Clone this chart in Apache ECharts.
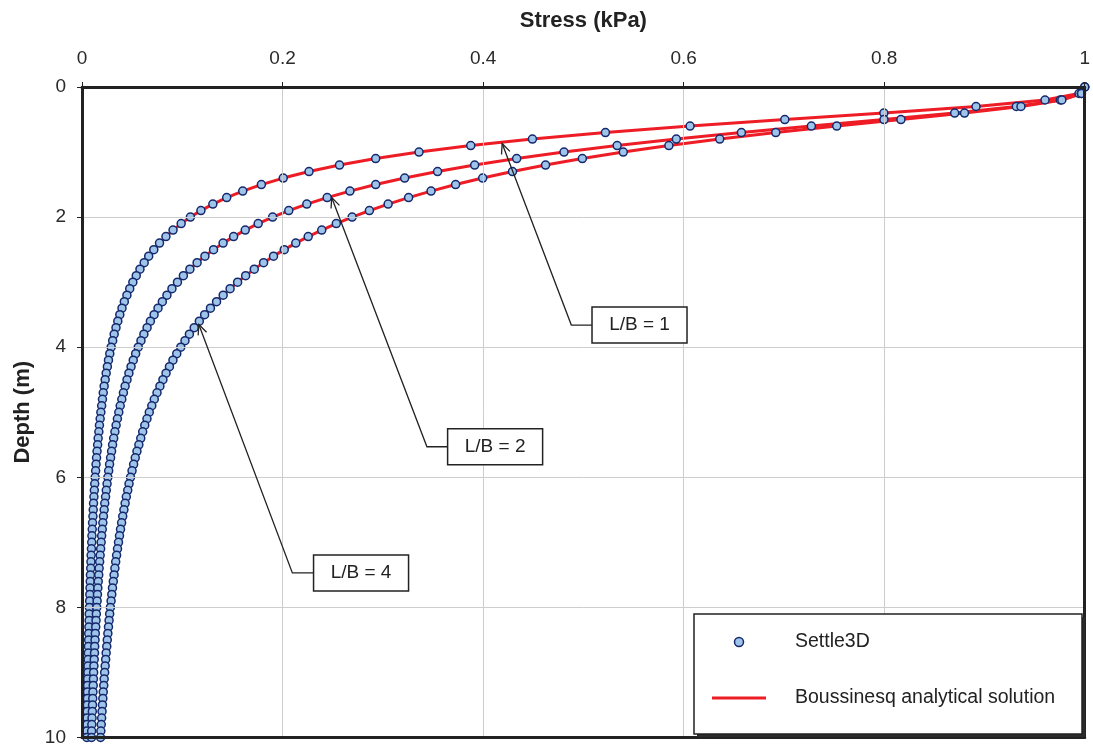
<!DOCTYPE html>
<html>
<head>
<meta charset="utf-8">
<title>Vertical stress below rectangular footings</title>
<script src="https://cdn.jsdelivr.net/npm/echarts@6/dist/echarts.min.js"></script>
<style>
  html, body { margin: 0; padding: 0; background: #ffffff; }
  #chart { width: 1093px; height: 747px; }
</style>
</head>
<body>
<div id="chart"></div>
<script>
// Depth below the footing (m)
const depths = [
  0.0, 0.1, 0.2, 0.3, 0.4, 0.5, 0.6, 0.7, 0.8, 0.9,
  1.0, 1.1, 1.2, 1.3, 1.4, 1.5, 1.6, 1.7, 1.8, 1.9,
  2.0, 2.1, 2.2, 2.3, 2.4, 2.5, 2.6, 2.7, 2.8, 2.9,
  3.0, 3.1, 3.2, 3.3, 3.4, 3.5, 3.6, 3.7, 3.8, 3.9,
  4.0, 4.1, 4.2, 4.3, 4.4, 4.5, 4.6, 4.7, 4.8, 4.9,
  5.0, 5.1, 5.2, 5.3, 5.4, 5.5, 5.6, 5.7, 5.8, 5.9,
  6.0, 6.1, 6.2, 6.3, 6.4, 6.5, 6.6, 6.7, 6.8, 6.9,
  7.0, 7.1, 7.2, 7.3, 7.4, 7.5, 7.6, 7.7, 7.8, 7.9,
  8.0, 8.1, 8.2, 8.3, 8.4, 8.5, 8.6, 8.7, 8.8, 8.9,
  9.0, 9.1, 9.2, 9.3, 9.4, 9.5, 9.6, 9.7, 9.8, 9.9,
  10.0
];

// Vertical stress (kPa) under the footing centre, L/B = 1
const stressLB1 = [
  1.0000, 0.9943, 0.9604, 0.8916, 0.7997, 0.7009, 0.6064, 0.5220, 0.4492, 0.3877,
  0.3361, 0.2929, 0.2568, 0.2264, 0.2007, 0.1789, 0.1603, 0.1443, 0.1305, 0.1186,
  0.1081, 0.0989, 0.0908, 0.0837, 0.0773, 0.0716, 0.0665, 0.0620, 0.0578, 0.0541,
  0.0507, 0.0476, 0.0448, 0.0422, 0.0399, 0.0377, 0.0357, 0.0339, 0.0321, 0.0306,
  0.0291, 0.0277, 0.0264, 0.0253, 0.0241, 0.0231, 0.0221, 0.0212, 0.0204, 0.0196,
  0.0188, 0.0181, 0.0174, 0.0168, 0.0161, 0.0156, 0.0150, 0.0145, 0.0140, 0.0136,
  0.0131, 0.0127, 0.0123, 0.0119, 0.0115, 0.0112, 0.0109, 0.0105, 0.0102, 0.0099,
  0.0097, 0.0094, 0.0091, 0.0089, 0.0087, 0.0084, 0.0082, 0.0080, 0.0078, 0.0076,
  0.0074, 0.0072, 0.0071, 0.0069, 0.0067, 0.0066, 0.0064, 0.0063, 0.0061, 0.0060,
  0.0059, 0.0057, 0.0056, 0.0055, 0.0054, 0.0053, 0.0052, 0.0051, 0.0050, 0.0049,
  0.0048
];

// Vertical stress (kPa) under the footing centre, L/B = 2
const stressLB2 = [
  1.0000, 0.9966, 0.9757, 0.9318, 0.8703, 0.7998, 0.7274, 0.6576, 0.5927, 0.5337,
  0.4807, 0.4335, 0.3916, 0.3546, 0.3218, 0.2929, 0.2672, 0.2445, 0.2242, 0.2062,
  0.1901, 0.1757, 0.1628, 0.1512, 0.1407, 0.1312, 0.1226, 0.1148, 0.1076, 0.1011,
  0.0952, 0.0897, 0.0847, 0.0801, 0.0758, 0.0719, 0.0682, 0.0649, 0.0617, 0.0588,
  0.0561, 0.0535, 0.0511, 0.0489, 0.0468, 0.0449, 0.0430, 0.0413, 0.0397, 0.0381,
  0.0367, 0.0353, 0.0340, 0.0328, 0.0316, 0.0305, 0.0295, 0.0285, 0.0275, 0.0266,
  0.0258, 0.0250, 0.0242, 0.0235, 0.0227, 0.0221, 0.0214, 0.0208, 0.0202, 0.0196,
  0.0191, 0.0186, 0.0181, 0.0176, 0.0171, 0.0167, 0.0162, 0.0158, 0.0154, 0.0151,
  0.0147, 0.0143, 0.0140, 0.0137, 0.0133, 0.0130, 0.0127, 0.0125, 0.0122, 0.0119,
  0.0116, 0.0114, 0.0112, 0.0109, 0.0107, 0.0105, 0.0103, 0.0100, 0.0098, 0.0096,
  0.0095
];

// Vertical stress (kPa) under the footing centre, L/B = 4
const stressLB4 = [
  1.0000, 0.9968, 0.9772, 0.9364, 0.8801, 0.8167, 0.7527, 0.6919, 0.6360, 0.5853,
  0.5398, 0.4990, 0.4623, 0.4293, 0.3996, 0.3726, 0.3481, 0.3257, 0.3053, 0.2866,
  0.2694, 0.2536, 0.2391, 0.2256, 0.2132, 0.2017, 0.1910, 0.1811, 0.1718, 0.1632,
  0.1552, 0.1477, 0.1408, 0.1342, 0.1281, 0.1223, 0.1170, 0.1119, 0.1071, 0.1027,
  0.0985, 0.0945, 0.0907, 0.0872, 0.0838, 0.0807, 0.0777, 0.0748, 0.0721, 0.0696,
  0.0671, 0.0648, 0.0626, 0.0605, 0.0586, 0.0567, 0.0548, 0.0531, 0.0515, 0.0499,
  0.0484, 0.0469, 0.0456, 0.0442, 0.0430, 0.0418, 0.0406, 0.0395, 0.0384, 0.0374,
  0.0364, 0.0354, 0.0345, 0.0336, 0.0328, 0.0320, 0.0312, 0.0304, 0.0297, 0.0290,
  0.0283, 0.0276, 0.0270, 0.0264, 0.0258, 0.0252, 0.0247, 0.0241, 0.0236, 0.0231,
  0.0226, 0.0221, 0.0217, 0.0212, 0.0208, 0.0204, 0.0200, 0.0196, 0.0192, 0.0188,
  0.0185
];

const curveLabels = ['L/B = 1', 'L/B = 2', 'L/B = 4'];

// Callouts in data units [stress, depth]: arrow tip, elbow, label box centre
const calloutTips    = [[0.419, 0.87], [0.249, 1.70], [0.1165, 3.65]];
const calloutElbows  = [[0.488, 3.66], [0.344, 5.53], [0.2098, 7.47]];
const calloutCentres = [[0.556, 3.66], [0.412, 5.53], [0.2783, 7.47]];

const FONT = '"Liberation Sans", Arial, Helvetica, sans-serif';
const INK = '#222222';
const RED = '#ee1c25';
const DOT_FILL = '#9ec4ea';
const DOT_EDGE = '#14286b';

function pairs(stress) {
  return stress.map((s, i) => [s, depths[i]]);
}

const curves = [stressLB1, stressLB2, stressLB4];

const series = [];
curves.forEach((stress) => {
  series.push({
    name: 'Boussinesq analytical solution',
    type: 'line',
    data: pairs(stress),
    symbol: 'none',
    smooth: false,
    lineStyle: { color: RED, width: 3 },
    itemStyle: { color: RED },
    z: 2,
    silent: true
  });
});
curves.forEach((stress) => {
  series.push({
    name: 'Settle3D',
    type: 'scatter',
    data: pairs(stress),
    symbol: 'circle',
    symbolSize: 8,
    itemStyle: { color: DOT_FILL, borderColor: DOT_EDGE, borderWidth: 1.5, opacity: 1 },
    z: 3,
    silent: true
  });
});

// Plain frame axes closing the plot box on the bottom and right
const frameAxis = {
  axisLine: { show: true, onZero: false, lineStyle: { color: INK, width: 3 } },
  axisTick: { show: false },
  axisLabel: { show: false },
  splitLine: { show: false }
};

const chart = echarts.init(document.getElementById('chart'), null, { renderer: 'canvas' });

chart.setOption({
  animation: false,
  backgroundColor: '#ffffff',
  textStyle: { fontFamily: FONT },
  grid: { left: 82, top: 87, width: 1007, height: 652, show: false },
  xAxis: [
    {
      type: 'value',
      position: 'top',
      min: 0, max: 1, interval: 0.2,
      name: 'Stress (kPa)',
      nameLocation: 'middle',
      nameGap: 55,
      nameTextStyle: { fontFamily: FONT, fontWeight: 'bold', fontSize: 22, color: INK },
      axisLine: { show: true, onZero: false, lineStyle: { color: INK, width: 3 } },
      axisTick: { show: true, length: 5, lineStyle: { color: INK, width: 1 } },
      axisLabel: { fontFamily: FONT, fontSize: 19, color: '#2a2a2a', margin: 19 },
      splitLine: { show: true, lineStyle: { color: '#cdcdcd', width: 1 } },
      z: 5
    },
    Object.assign({ type: 'value', position: 'bottom', min: 0, max: 1, z: 5 }, frameAxis)
  ],
  yAxis: [
    {
      type: 'value',
      inverse: true,
      min: 0, max: 10, interval: 2,
      name: 'Depth (m)',
      nameLocation: 'middle',
      nameGap: 44,
      nameTextStyle: { fontFamily: FONT, fontWeight: 'bold', fontSize: 22, color: INK },
      axisLine: { show: true, onZero: false, lineStyle: { color: INK, width: 3 } },
      axisTick: { show: true, length: 5, lineStyle: { color: INK, width: 1 } },
      axisLabel: { fontFamily: FONT, fontSize: 19, color: '#2a2a2a', margin: 16 },
      splitLine: { show: true, lineStyle: { color: '#cdcdcd', width: 1 } },
      z: 5
    },
    Object.assign({ type: 'value', position: 'right', inverse: true, min: 0, max: 10, z: 5 }, frameAxis)
  ],
  legend: {
    left: 694, top: 614,
    orient: 'vertical',
    itemWidth: 54, itemHeight: 9, itemGap: 36,
    padding: [18, 26, 26, 18],
    backgroundColor: 'transparent',
    borderWidth: 0,
    symbolKeepAspect: true,
    textStyle: { fontFamily: FONT, fontSize: 19.5, color: INK, padding: [0, 0, 0, 24] },
    selectedMode: false,
    z: 20,
    data: [
      { name: 'Settle3D', icon: 'circle', itemStyle: { color: DOT_FILL, borderColor: DOT_EDGE, borderWidth: 1.5 } },
      { name: 'Boussinesq analytical solution', icon: 'path://M0,0H54V3H0Z', itemStyle: { color: RED } }
    ]
  },
  series: series
});

// Legend frame with a drop shadow on the right and bottom
const legendFrame = [
  {
    type: 'rect', z: 15,
    shape: { x: 697, y: 617, width: 388, height: 120 },
    style: { fill: '#2b2b2b' }
  },
  {
    type: 'rect', z: 16,
    shape: { x: 694, y: 614, width: 388, height: 120 },
    style: { fill: '#ffffff', stroke: INK, lineWidth: 1.5 }
  }
];

// Callout boxes with leader lines and open arrowheads, placed through the axes
function drawCallouts() {
  const els = legendFrame.slice();
  curveLabels.forEach((label, i) => {
    const tip = chart.convertToPixel({ xAxisIndex: 0, yAxisIndex: 0 }, calloutTips[i]);
    const elbow = chart.convertToPixel({ xAxisIndex: 0, yAxisIndex: 0 }, calloutElbows[i]);
    const centre = chart.convertToPixel({ xAxisIndex: 0, yAxisIndex: 0 }, calloutCentres[i]);
    const boxW = 95, boxH = 36;
    const boxLeft = centre[0] - boxW / 2;

    els.push({
      type: 'polyline',
      shape: { points: [[boxLeft, elbow[1]], elbow, tip] },
      style: { stroke: INK, lineWidth: 1.3, fill: null },
      z: 10
    });

    const ang = Math.atan2(elbow[1] - tip[1], elbow[0] - tip[0]);
    const len = 11, spread = 0.42;
    els.push({
      type: 'polyline',
      shape: {
        points: [
          [tip[0] + len * Math.cos(ang - spread), tip[1] + len * Math.sin(ang - spread)],
          tip,
          [tip[0] + len * Math.cos(ang + spread), tip[1] + len * Math.sin(ang + spread)]
        ]
      },
      style: { stroke: INK, lineWidth: 1.3, fill: null },
      z: 10
    });

    els.push({
      type: 'rect',
      shape: { x: boxLeft, y: centre[1] - boxH / 2, width: boxW, height: boxH },
      style: { fill: '#ffffff', stroke: INK, lineWidth: 1.5 },
      z: 11
    });
    els.push({
      type: 'text',
      x: centre[0], y: centre[1],
      style: {
        text: label, fontFamily: FONT, fontSize: 19, fill: INK,
        align: 'center', verticalAlign: 'middle'
      },
      z: 12
    });
  });
  chart.setOption({ graphic: els });
}

drawCallouts();
</script>
</body>
</html>
